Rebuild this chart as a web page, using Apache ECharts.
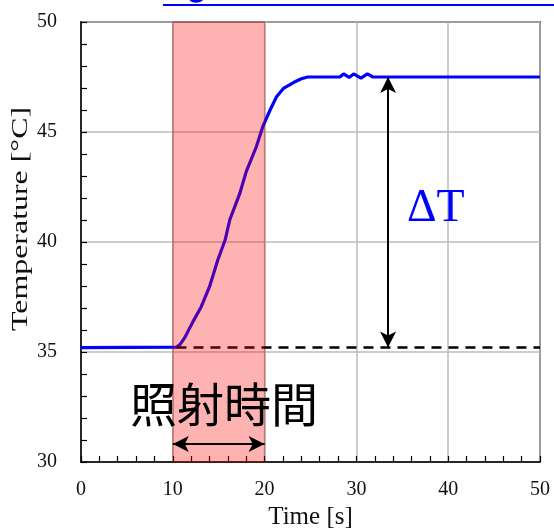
<!DOCTYPE html>
<html>
<head>
<meta charset="utf-8">
<script src="https://cdn.jsdelivr.net/npm/echarts@6/dist/echarts.min.js"></script>
<style>html,body{margin:0;padding:0;background:#fff;}#c{width:554px;height:528px;}</style>
</head>
<body>
<div id="c"></div>
<script>
// ---- data ----
const timeS = [0, 10.4, 10.8, 11.3, 12.2, 13.1, 14.0, 14.9, 15.7, 16.2, 17.3, 18.0, 19.1, 19.8, 20.6, 21.3, 22.05, 23.2, 24.0, 24.7, 28.2, 28.6, 29.2, 29.7, 30.5, 31.2, 31.8, 50];
const tempC = [35.2, 35.22, 35.35, 35.65, 36.38, 37.06, 37.97, 39.18, 40.09, 41.0, 42.21, 43.2, 44.33, 45.24, 46.0, 46.6, 46.98, 47.26, 47.42, 47.5, 47.5, 47.64, 47.48, 47.64, 47.45, 47.64, 47.5, 47.5];
const baselineX = [10.4, 50];
const baselineY = 35.2;
const irradiation = [10, 20];      // 照射時間 band [s]
const deltaTx = 33.45;             // ΔT arrow position [s]
const plateauY = 47.5;
const spanArrowY = 30.82;
const xTicks = [0, 10, 20, 30, 40, 50];
const yTicks = [30, 35, 40, 45, 50];
const xName = 'Time [s]';
const yName = 'Temperature [°C]';

const lineData = timeS.map((t, i) => [t, tempC[i]]);
const chart = echarts.init(document.getElementById('c'));
const serif = 'Liberation Serif';
chart.setOption({
  animation: false,
  backgroundColor: '#fff',
  grid: { left: 81, right: 14, top: 22, bottom: 66, containLabel: false, outerBoundsMode: 'none', show: true, borderColor: '#000', borderWidth: 1.5, backgroundColor: 'transparent' },
  xAxis: {
    type: 'value', min: xTicks[0], max: xTicks[xTicks.length - 1], interval: 10,
    name: xName, nameLocation: 'middle', nameGap: 41,
    nameTextStyle: { fontFamily: serif, fontSize: 25, color: '#111' },
    axisLine: { lineStyle: { color: '#000', width: 1.5 } },
    axisTick: { inside: true, length: 6, lineStyle: { color: '#000', width: 1.2 } },
    minorTick: { show: true, splitNumber: 5, length: 6, lineStyle: { color: '#000', width: 1.2 } },
    axisLabel: { fontFamily: serif, fontSize: 20, color: '#111', margin: 18 },
    splitLine: { show: true, lineStyle: { color: '#bcbcbc', width: 1.5 } }
  },
  yAxis: {
    type: 'value', min: yTicks[0], max: yTicks[yTicks.length - 1], interval: 5,
    axisLine: { lineStyle: { color: '#000', width: 1.5 } },
    axisTick: { inside: true, length: 6, lineStyle: { color: '#000', width: 1.2 } },
    minorTick: { show: true, splitNumber: 5, length: 6, lineStyle: { color: '#000', width: 1.2 } },
    axisLabel: { fontFamily: serif, fontSize: 20, color: '#111', margin: 24 },
    splitLine: { show: true, lineStyle: { color: '#bcbcbc', width: 1.5 } }
  },
  series: [
    {
      type: 'line', data: lineData, showSymbol: false, z: 3,
      lineStyle: { color: '#0000ff', width: 3.2 },
      markArea: {
        z: 6, silent: true,
        itemStyle: { color: 'rgba(255,0,0,0.3)', borderColor: 'rgba(150,0,0,0.3)', borderWidth: 1.5 },
        data: [[{ xAxis: irradiation[0] }, { xAxis: irradiation[1] }]]
      }
    },
    {
      type: 'line', data: baselineX.map(x => [x, baselineY]), showSymbol: false, z: 4,
      lineStyle: { color: '#000', width: 2.5, type: [10, 7] },
      markLine: {
        silent: true, z: 7, symbol: ['arrow', 'arrow'], symbolSize: [12, 16],
        label: { show: false },
        lineStyle: { color: '#000', width: 2, type: 'solid' },
        data: [
          [{ coord: [deltaTx, plateauY] }, { coord: [deltaTx, baselineY] }],
          [{ coord: [irradiation[0], spanArrowY] }, { coord: [irradiation[1], spanArrowY] }]
        ]
      }
    }
  ],
  graphic: [
    { type: 'text', x: 21, y: 219, rotation: Math.PI / 2, scaleX: 1.33, z: 20,
      style: { text: yName, x: 0, y: 0, align: 'center', verticalAlign: 'middle', font: '24px "Liberation Serif"', fill: '#111' } },
    { type: 'text', left: 130, top: 381, z: 20, style: { text: '照射時間', font: '47px "Noto Sans CJK JP"', fill: '#000' } },
    { type: 'text', left: 407, top: 186, z: 20, style: { text: 'ΔT', font: '46px "Liberation Serif"', fill: '#0000ff' } },
    { type: 'text', left: 163, top: -29, z: 20, style: { text: 'Fig.  光照射による水温の上昇温度', font: 'bold 28px "Noto Sans CJK JP"', fill: '#0000ff' } },
    { type: 'line', z: 20, shape: { x1: 163, y1: 5, x2: 554, y2: 5 }, style: { stroke: '#0000ff', lineWidth: 2 } }
  ]
});
</script>
</body>
</html>
